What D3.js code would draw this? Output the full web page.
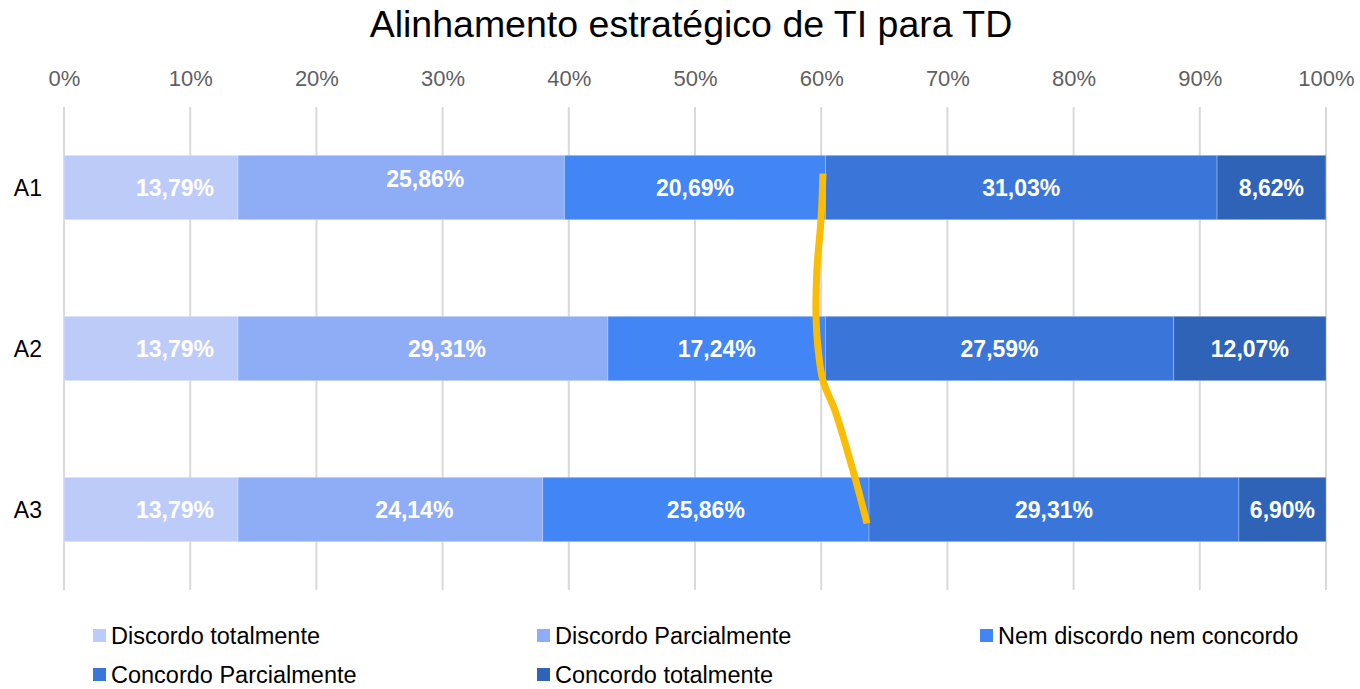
<!DOCTYPE html>
<html><head><meta charset="utf-8">
<script src="https://cdn.jsdelivr.net/npm/d3@7"></script>
<style>body{margin:0;background:#fff}svg{display:block;font-family:"Liberation Sans",Arial,sans-serif}</style>
</head><body>
<svg id="c" width="1360" height="689"></svg>
<script>
const title = "Alinhamento estratégico de TI para TD";
const categories = ["A1", "A2", "A3"];
const seriesNames = ["Discordo totalmente", "Discordo Parcialmente", "Nem discordo nem concordo", "Concordo Parcialmente", "Concordo totalmente"];
const discordoTotalmente = [13.79, 13.79, 13.79];
const discordoParcialmente = [25.86, 29.31, 24.14];
const nemNem = [20.69, 17.24, 25.86];
const concordoParcialmente = [31.03, 27.59, 29.31];
const concordoTotalmente = [8.62, 12.07, 6.90];
const tickValues = [0, 10, 20, 30, 40, 50, 60, 70, 80, 90, 100];
const colors = ["#bdcbf9", "#8fadf6", "#4285f4", "#3a76d9", "#2f63b8"];
// hand-drawn annotation curve (percent, row position: 0 = A1 centre, 1 = A2, 2 = A3)
const annoPct = [60.14, 59.98, 59.67, 59.59, 59.75, 60.14, 61.09, 62.52, 63.63];
const annoRow = [-0.087, 0.205, 0.497, 0.807, 1.0, 1.199, 1.385, 1.758, 2.087];

const series = [discordoTotalmente, discordoParcialmente, nemNem, concordoParcialmente, concordoTotalmente];
const svg = d3.select("#c");
const x = d3.scaleLinear().domain([0, 100]).range([64, 1326]);
const y = d3.scaleBand().domain(categories).range([107, 590]).paddingInner(0.6).paddingOuter(0.3);
const step = y.step();
const rowY = r => y(categories[0]) + y.bandwidth() / 2 + r * step;

svg.append("text").attr("x", 691).attr("y", 37).attr("text-anchor", "middle")
  .attr("font-size", 37.5).attr("fill", "#000").text(title);

// gridlines
svg.append("g").selectAll("line").data(tickValues).join("line")
  .attr("x1", d => x(d)).attr("x2", d => x(d)).attr("y1", 107).attr("y2", 590)
  .attr("stroke", "#d9d9d9").attr("stroke-width", 2);

// top axis labels
const axis = d3.axisTop(x).tickValues(tickValues).tickFormat(d => d + "%").tickSize(0).tickPadding(0);
const ag = svg.append("g").attr("transform", "translate(0,86)").call(axis);
ag.select(".domain").remove();
ag.selectAll("text").attr("font-size", 22).attr("fill", "#5f5f5f").attr("font-family", "Liberation Sans, Arial, sans-serif");

// category labels
svg.append("g").selectAll("text").data(categories).join("text")
  .attr("x", 42).attr("y", d => y(d) + y.bandwidth() / 2).attr("dy", "0.35em")
  .attr("text-anchor", "end").attr("font-size", 23).attr("fill", "#000").text(d => d);

// stacked data
const rows = categories.map((c, i) => {
  let acc = 0;
  return series.map((s, k) => { const o = {cat: c, k, v: s[i], x0: acc, x1: acc + s[i]}; acc += s[i]; return o; });
}).flat();

svg.append("g").selectAll("rect").data(rows).join("rect")
  .attr("x", d => x(d.x0)).attr("width", d => x(d.x1) - x(d.x0))
  .attr("y", d => y(d.cat)).attr("height", y.bandwidth())
  .attr("fill", d => colors[d.k]).attr("stroke", "rgba(255,255,255,0.25)").attr("stroke-width", 1);

const fmt = v => v.toFixed(2).replace(".", ",") + "%";
svg.append("g").selectAll("text").data(rows).join("text")
  .attr("x", d => (x(d.x0) + x(d.x1)) / 2 + (d.k < 2 ? 24 : 0))
  .attr("y", d => y(d.cat) + y.bandwidth() / 2 - (d.cat === "A1" && d.k === 1 ? 9 : 0))
  .attr("dy", "0.35em").attr("text-anchor", "middle")
  .attr("font-size", 23).attr("font-weight", "bold").attr("fill", "#fff").text(d => fmt(d.v));

// annotation curve
const line = d3.line().x(d => x(d[0])).y(d => rowY(d[1])).curve(d3.curveCatmullRom);
svg.append("path").datum(annoPct.map((p, i) => [p, annoRow[i]]))
  .attr("d", line).attr("fill", "none").attr("stroke", "#fbbc04").attr("stroke-width", 7);

// legend
const legPos = [[93, 636], [537, 636], [980, 636], [93, 675], [537, 675]];
const lg = svg.append("g").selectAll("g").data(seriesNames).join("g")
  .attr("transform", (d, i) => `translate(${legPos[i][0]},${legPos[i][1]})`);
lg.append("rect").attr("x", 0).attr("y", -7).attr("width", 13).attr("height", 13).attr("fill", (d, i) => colors[i]);
lg.append("text").attr("x", 18).attr("dy", "0.35em").attr("font-size", 23.5).attr("fill", "#000").text(d => d);
</script>
</body></html>
